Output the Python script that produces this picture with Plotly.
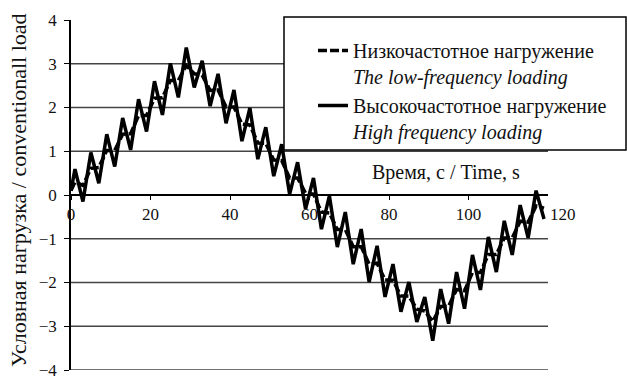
import plotly.graph_objects as go

# ---- data ----
time_s = [0, 1, 3, 5, 7, 9, 11, 13, 15, 17, 19, 21, 23, 25, 27, 29, 31, 33, 35, 37, 39,
          41, 43, 45, 47, 49, 51, 53, 55, 57, 59, 61, 63, 65, 67, 69, 71, 73, 75, 77, 79,
          81, 83, 85, 87, 89, 91, 93, 95, 97, 99, 101, 103, 105, 107, 109, 111, 113, 115, 117, 119]

high_freq = [0.10, 0.59, -0.15, 0.97, 0.27, 1.39, 0.65, 1.76, 1.03, 2.19, 1.45, 2.60, 1.83, 3.01, 2.23,
             3.37, 2.46, 3.07, 2.03, 2.77, 1.64, 2.40, 1.23, 1.99, 0.82, 1.55, 0.43, 1.16, 0.02, 0.75,
             -0.32, 0.39, -0.78, -0.02, -1.19, -0.39, -1.58, -0.78, -1.99, -1.16, -2.33, -1.58, -2.67,
             -1.99, -2.90, -2.33, -3.33, -2.15, -2.94, -1.76, -2.60, -1.37, -2.17, -0.96, -1.76, -0.59,
             -1.37, -0.23, -0.98, 0.10, -0.55]

low_freq = [0.10, 0.30, 0.22, 0.61, 0.63, 1.02, 1.02, 1.39, 1.40, 1.82, 1.82, 2.21, 2.22, 2.62, 2.62,
            2.96, 2.77, 2.74, 2.39, 2.40, 2.01, 2.01, 1.62, 1.60, 1.19, 1.18, 0.80, 0.79, 0.39, 0.39,
            0.04, 0.02, -0.39, -0.41, -0.79, -0.79, -1.18, -1.18, -1.58, -1.56, -1.94, -1.95, -2.31,
            -2.31, -2.61, -2.65, -2.89, -2.55, -2.54, -2.16, -2.19, -1.77, -1.77, -1.36, -1.36, -0.98,
            -0.98, -0.60, -0.62, -0.25, -0.30]

x_tick_vals = [0, 20, 40, 60, 80, 100, 120]
y_tick_vals = [-4, -3, -2, -1, 0, 1, 2, 3, 4]
grid_levels = [-4, -3, -2, -1, 1, 2, 3]

low_name = "Низкочастотное нагружение<br><i>The low-frequency loading</i>"
high_name = "Высокочастотное нагружение<br><i>High frequency loading</i>"
x_title = "Время, с / Time, s"
y_title = "Условная нагрузка / conventionall load"

SERIF = "Liberation Serif"

fig = go.Figure()
fig.add_trace(go.Scatter(x=time_s, y=low_freq, mode="lines", name=low_name,
                         line=dict(color="black", width=3.5, dash="9px,3px"),
                         legendgroup="a"))
fig.add_trace(go.Scatter(x=time_s, y=high_freq, mode="lines", name=high_name,
                         line=dict(color="black", width=3.5),
                         legendgroup="b"))

for g in grid_levels:
    fig.add_hline(y=g, line=dict(color="#444", width=1.5), layer="below")

W, H = 627, 379
L, R, T, B = 71, 79, 20, 9
pw, ph = W - L - R, H - T - B

def px2x(px):
    return (px - L) / pw

def px2y(py):
    return (H - B - py) / ph

tick_font = dict(family=SERIF, size=17, color="#111")

fig.update_layout(
    width=W, height=H,
    margin=dict(l=L, r=R, t=T, b=B, autoexpand=False),
    paper_bgcolor="white", plot_bgcolor="white",
    font=dict(family=SERIF, size=16, color="#111"),
    showlegend=True,
    legend=dict(x=px2x(313), y=px2y(31), xanchor="left", yanchor="top",
                bgcolor="rgba(0,0,0,0)", borderwidth=0,
                font=dict(family=SERIF, size=20, color="#111"),
                valign="top", traceorder="grouped", tracegroupgap=0),
    xaxis=dict(range=[0, 120], tickvals=x_tick_vals[:-1], showgrid=False, zeroline=False,
               showline=True, linecolor="black", linewidth=1.5, automargin=False,
               anchor="free", position=0.5, ticks="outside", ticklen=4, tickcolor="black",
               tickfont=tick_font),
    yaxis=dict(range=[-4, 4], tickvals=y_tick_vals, showgrid=False, zeroline=False,
               showline=True, linecolor="black", linewidth=1.5, automargin=False,
               ticks="outside", ticklen=5, tickcolor="black", ticklabelstandoff=4,
               ticklabeloverflow="allow", tickfont=tick_font),
)

# legend frame (white-filled, drawn above the curves like in the source)
fig.add_shape(type="rect", xref="paper", yref="paper",
              x0=px2x(284), x1=px2x(626), y0=px2y(150), y1=px2y(17),
              line=dict(color="black", width=1.5), fillcolor="white", layer="above")

fig.add_annotation(text=str(x_tick_vals[-1]), x=x_tick_vals[-1], y=0, xref="x", yref="y",
                   xshift=15, yshift=-19, showarrow=False, font=tick_font)
fig.add_annotation(text=x_title, xref="paper", yref="paper", x=px2x(446), y=px2y(172),
                   xanchor="center", yanchor="middle", showarrow=False,
                   font=dict(family=SERIF, size=20, color="#111"))
fig.add_annotation(text=y_title, xref="paper", yref="paper", x=px2x(18), y=px2y(190),
                   xanchor="center", yanchor="middle",
                   textangle=-90, showarrow=False,
                   font=dict(family=SERIF, size=22, color="#111"))

fig.write_html("out.html", config={"displayModeBar": False},
               post_script="document.body.style.margin='0';")
